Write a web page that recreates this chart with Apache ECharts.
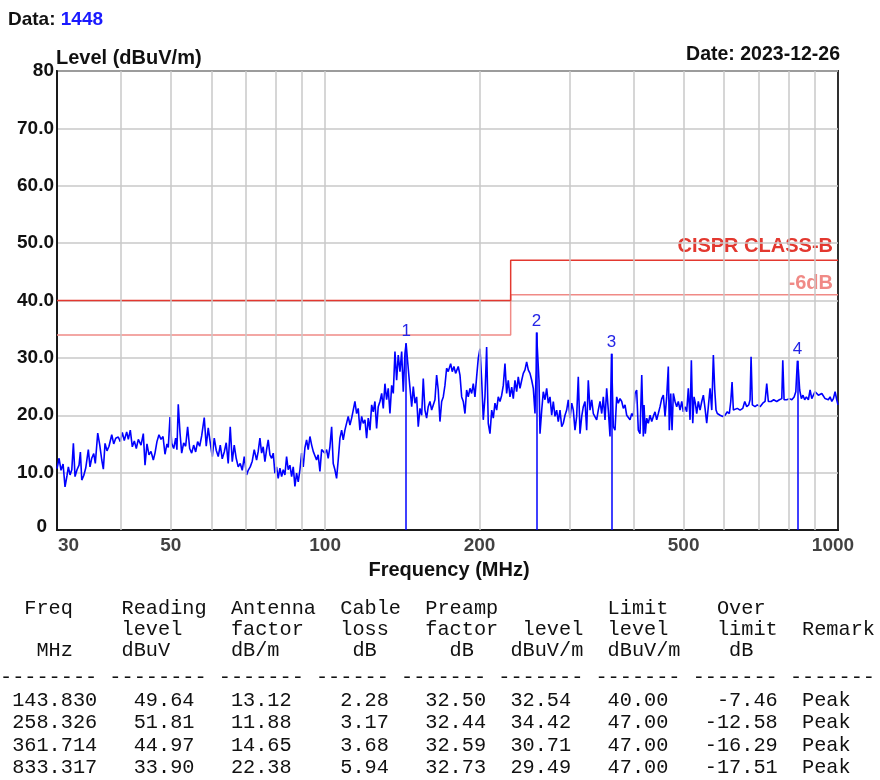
<!DOCTYPE html>
<html><head><meta charset="utf-8">
<script src="https://cdn.jsdelivr.net/npm/echarts@6/dist/echarts.min.js"></script>
<style>html,body{margin:0;padding:0;background:#fff}#c{width:880px;height:780px}</style>
</head><body><div id="c"></div>
<script>
// ---------------- data ----------------
const dataId = '1448';
const testDate = '2023-12-26';
// measured trace: [frequency MHz, level dBuV/m]
const tracePoints = [
[30.00,10.7],[30.28,12.5],[30.55,10.4],[30.83,11.5],[31.10,7.5],[31.38,9.5],[31.57,11.0],[31.81,9.6],[32.06,10.5],[32.29,15.1],
[32.53,9.3],[32.82,10.5],[33.12,11.3],[33.32,13.6],[33.53,8.7],[33.83,9.5],[34.13,10.8],[34.53,14.0],[34.79,11.0],[35.06,12.5],
[35.38,13.3],[35.63,11.6],[36.02,16.9],[36.35,14.8],[36.68,12.2],[36.94,10.6],[37.22,15.1],[37.55,13.8],[37.89,14.6],[38.36,16.6],
[38.70,15.0],[39.05,16.0],[39.50,16.2],[39.86,15.4],[40.22,17.0],[40.58,15.6],[41.02,17.1],[41.32,15.8],[41.69,17.4],[42.07,14.5],
[42.45,15.5],[42.83,14.2],[43.22,15.8],[43.75,14.8],[44.20,16.8],[44.54,11.3],[44.93,15.0],[45.34,13.1],[45.75,13.7],[46.23,12.2],
[46.58,13.4],[46.99,15.4],[47.42,16.6],[47.85,15.8],[48.29,16.3],[48.72,13.2],[49.15,15.0],[49.44,14.4],[49.83,19.7],[50.21,15.1],
[50.66,14.2],[51.11,16.0],[51.40,14.0],[51.71,21.9],[52.11,17.0],[52.51,13.4],[52.98,15.2],[53.45,14.6],[53.93,18.0],[54.43,14.2],
[54.92,13.4],[55.41,14.8],[55.91,13.6],[56.41,15.4],[56.93,14.6],[57.44,16.4],[58.11,19.6],[58.63,14.6],[59.16,17.8],[59.70,15.2],
[60.24,12.8],[60.78,16.0],[61.32,13.9],[61.88,12.8],[62.44,14.8],[63.00,12.4],[63.57,13.6],[64.13,15.2],[64.71,11.6],[65.30,18.0],
[65.89,11.9],[66.48,14.8],[67.07,12.5],[67.68,11.0],[68.30,11.6],[68.92,10.4],[69.54,12.8],[70.28,9.6],[70.79,10.4],[71.43,11.0],
[72.08,12.0],[72.73,14.0],[73.50,12.2],[74.04,13.7],[74.61,16.0],[75.18,13.4],[75.72,14.5],[76.30,11.9],[76.88,14.0],[77.44,15.7],
[78.04,13.1],[78.64,12.5],[79.21,13.4],[79.80,9.9],[80.40,11.0],[80.99,9.0],[81.62,10.8],[82.25,9.3],[82.84,10.5],[83.47,9.6],
[84.10,12.8],[84.71,10.5],[85.37,11.3],[86.02,9.3],[86.65,11.0],[87.31,7.6],[87.96,9.9],[88.61,8.4],[89.29,10.5],[89.98,13.4],
[90.63,11.0],[91.31,14.3],[92.00,15.7],[92.67,14.0],[93.39,16.3],[94.12,14.8],[94.79,13.7],[95.50,14.0],[96.22,12.2],[96.92,13.1],
[97.68,10.2],[98.43,14.0],[99.14,14.3],[99.89,13.4],[100.64,14.0],[101.37,12.5],[102.16,14.5],[102.95,18.0],[103.69,11.6],[104.48,10.5],
[105.27,9.0],[106.04,12.2],[106.86,16.0],[107.68,17.4],[108.46,15.7],[109.28,17.4],[110.10,17.1],[110.91,19.8],[111.77,18.3],[112.63,19.5],
[113.44,20.9],[114.30,22.4],[115.16,20.3],[116.00,21.2],[116.90,17.4],[117.80,19.8],[118.65,18.6],[119.56,19.2],[120.46,16.0],[121.34,19.5],
[122.28,17.4],[123.22,21.8],[124.11,20.6],[125.05,22.4],[125.99,17.7],[126.91,21.5],[127.90,22.4],[128.88,23.8],[129.81,21.2],[130.79,25.5],
[131.78,22.7],[132.74,24.7],[133.77,20.3],[134.80,25.2],[135.78,23.8],[136.81,31.1],[137.84,26.1],[138.84,30.5],[139.92,27.6],[140.99,31.1],
[142.01,24.1],[143.09,30.8],[143.83,32.54],[144.56,30.2],[145.89,26.1],[147.48,21.5],[148.54,25.0],[149.66,22.1],[150.79,23.2],[151.89,18.0],
[153.07,21.2],[154.25,20.0],[155.35,26.4],[156.53,20.9],[157.70,19.5],[158.85,21.5],[160.09,22.4],[161.32,20.9],[162.48,21.2],[163.72,22.7],
[164.95,27.0],[166.16,24.4],[167.44,18.9],[168.73,22.4],[169.94,23.2],[171.23,25.2],[172.52,28.2],[173.78,27.6],[174.34,27.3],[175.67,29.0],
[176.94,27.6],[178.28,28.5],[179.63,27.3],[181.77,28.5],[183.18,27.0],[184.59,23.2],[185.92,22.4],[187.33,20.3],[188.74,24.4],[190.12,23.2],
[191.59,24.7],[193.07,23.8],[194.46,25.5],[195.93,23.2],[197.41,26.7],[198.85,29.9],[200.39,31.6],[201.94,26.1],[203.39,19.2],[204.93,23.2],
[206.48,31.9],[207.99,18.6],[209.60,16.8],[211.22,20.9],[212.74,19.5],[214.35,22.1],[215.97,20.9],[217.54,23.2],[219.23,22.4],[220.92,23.5],
[222.51,25.2],[224.20,29.0],[225.88,23.8],[227.53,26.1],[229.30,23.2],[231.07,24.9],[232.73,22.9],[234.49,26.1],[236.26,24.1],[237.98,26.7],
[239.83,24.7],[241.68,26.1],[243.41,27.3],[245.27,27.9],[247.11,29.3],[248.92,27.9],[250.85,27.3],[252.79,26.1],[254.60,24.7],[256.54,20.3],
[257.90,27.9],[258.33,34.42],[261.19,26.1],[262.38,16.8],[264.40,20.9],[266.30,24.1],[268.32,22.7],[270.34,24.7],[272.32,22.1],[274.43,23.2],
[276.54,20.0],[278.53,22.4],[280.64,19.8],[282.76,20.9],[284.82,18.9],[287.03,20.9],[289.24,18.0],[291.32,18.6],[293.54,20.0],[295.75,20.9],
[297.91,22.7],[300.22,19.5],[302.54,22.1],[304.71,20.9],[307.02,17.4],[309.33,19.8],[311.59,26.7],[314.01,16.8],[316.43,19.8],[318.71,21.5],
[321.12,22.4],[323.54,17.4],[325.90,26.1],[328.43,20.9],[330.96,22.7],[333.34,20.3],[335.87,20.0],[338.40,19.2],[340.87,20.9],[343.52,22.4],
[346.17,20.3],[348.66,23.2],[351.31,19.2],[353.95,24.7],[356.54,20.9],[359.30,16.3],[361.71,30.71],[364.67,18.0],[367.44,17.4],[370.21,23.2],
[372.91,22.1],[375.81,22.9],[378.70,22.4],[381.43,21.2],[384.32,21.8],[387.22,20.0],[390.05,20.3],[393.07,19.2],[396.11,20.3],[398.97,19.8],
[402.00,23.8],[405.01,24.4],[407.96,17.4],[411.13,16.8],[414.30,27.0],[417.28,16.3],[418.58,21.8],[421.00,16.8],[423.61,19.5],[426.70,18.6],
[430.02,20.0],[433.33,18.9],[436.45,19.8],[439.76,20.6],[443.08,19.2],[446.31,20.3],[449.77,21.5],[453.24,22.9],[456.50,23.5],[459.96,19.8],
[463.42,23.2],[466.80,28.5],[468.93,17.4],[471.91,23.8],[474.68,17.4],[477.45,23.8],[481.08,22.4],[484.71,21.5],[488.25,22.4],[492.04,20.9],
[495.83,22.4],[499.40,20.6],[503.19,21.5],[506.98,20.6],[510.68,24.7],[514.64,19.2],[517.67,29.6],[520.94,18.6],[523.97,23.2],[527.00,22.1],
[530.26,20.3],[534.13,22.4],[538.28,20.9],[542.43,22.4],[546.33,23.5],[550.48,21.2],[554.62,18.6],[558.67,21.5],[563.01,24.7],[567.35,20.9],
[571.43,30.5],[575.00,24.4],[578.32,20.9],[581.67,20.3],[588.87,20.0],[596.08,19.8],[602.21,20.0],[608.39,20.6],[613.97,20.3],[617.88,22.4],
[621.50,25.8],[625.13,20.9],[630.71,20.6],[636.34,21.2],[644.22,20.9],[652.10,21.2],[657.94,22.4],[663.77,21.5],[669.84,21.8],[673.81,22.7],
[676.86,30.2],[680.83,21.8],[689.08,21.5],[696.14,21.8],[704.76,21.5],[713.39,22.1],[720.73,22.4],[726.16,25.5],[731.46,22.4],[740.48,22.4],
[749.16,22.7],[759.52,22.4],[768.55,22.7],[776.95,22.9],[780.44,29.6],[784.98,22.7],[794.40,22.7],[804.04,22.9],[812.81,22.7],[821.21,23.2],
[827.42,24.1],[833.32,29.49],[836.96,27.9],[841.93,24.4],[848.43,22.9],[854.55,23.5],[861.05,22.7],[867.55,23.2],[875.41,22.7],[882.20,24.4],
[888.99,22.9],[895.39,23.5],[902.19,24.1],[908.99,23.8],[915.63,23.5],[922.73,23.2],[929.84,23.8],[936.53,23.5],[943.64,22.9],[950.75,23.2],
[957.68,22.7],[965.12,23.2],[972.55,22.4],[979.55,22.9],[986.98,24.1],[994.42,22.7],[1000.00,21.8]
];
// limit lines
const limitFreq   = [30, 230, 230, 1000];
const limitClassB = [40, 40, 47, 47];
const limitMinus6 = [34, 34, 41, 41];
const limitNames  = ['CISPR CLASS-B', '-6dB'];
// axes
const xTickValues = [30, 50, 100, 200, 500, 1000];
const xGridValues = [40, 50, 60, 70, 80, 90, 100, 200, 300, 400, 500, 600, 700, 800, 900];
const yMin = 0, yMax = 80, yStep = 10;
// peak table
const peakFreq     = [143.830, 258.326, 361.714, 833.317];
const readingLevel = [49.64, 51.81, 44.97, 33.90];
const antennaFactor= [13.12, 11.88, 14.65, 22.38];
const cableLoss    = [2.28, 3.17, 3.68, 5.94];
const preampFactor = [32.50, 32.44, 32.59, 32.73];
const peakLevel    = [32.54, 34.42, 30.71, 29.49];
const limitLevel   = [40.00, 47.00, 47.00, 47.00];
const overLimit    = [-7.46, -12.58, -16.29, -17.51];
const remark       = ['Peak', 'Peak', 'Peak', 'Peak'];
const tableHeader = [
  '  Freq    Reading  Antenna  Cable  Preamp         Limit    Over',
  '          level    factor   loss   factor  level  level    limit  Remark',
  '   MHz    dBuV     dB/m      dB      dB   dBuV/m  dBuV/m    dB',
  '-------- -------- ------- ------ ------- ------- ------- ------- -------'
];

// ---------------- styles / layout ----------------
const SANS = '"Liberation Sans", Arial, sans-serif';
const MONO = '"Liberation Mono", "DejaVu Sans Mono", monospace';
const gridColor = '#c8c8c8';
const frameColor = '#1a1a1a';
const traceColor = '#0000ff';
const limitColor = '#e3382f';
const limit6Color = '#f08a86';

const colEnds = [8, 16, 24, 32, 40, 47, 55, 64];
const remarkCol = 66;
function placeRight(line, str, end) {
  while (line.length < end - str.length) line += ' ';
  return line + str;
}
const tableRows = peakFreq.map((f, i) => {
  const cells = [f.toFixed(3), readingLevel[i].toFixed(2), antennaFactor[i].toFixed(2),
    cableLoss[i].toFixed(2), preampFactor[i].toFixed(2), peakLevel[i].toFixed(2),
    limitLevel[i].toFixed(2), overLimit[i].toFixed(2)];
  let line = '';
  cells.forEach((c, j) => { line = placeRight(line, c, colEnds[j]); });
  while (line.length < remarkCol) line += ' ';
  return line + remark[i];
});
const tableLines = tableHeader.concat(tableRows);
const tableY = [609, 630, 651, 678, 701, 723, 746, 768];
const monoFont = '20.25px ' + MONO;

const chart = echarts.init(document.getElementById('c'), null, {renderer: 'canvas'});

const graphics = [
  { type: 'text', left: 8, top: 10, style: {
      text: '{a|Data: }{b|' + dataId + '}',
      rich: { a: {fontFamily: SANS, fontWeight: 'bold', fontSize: 19, fill: '#111'},
              b: {fontFamily: SANS, fontWeight: 'bold', fontSize: 19, fill: '#1a1aff'} } } },
  { type: 'text', x: 56, y: 58, style: { text: 'Level (dBuV/m)', font: 'bold 20px ' + SANS, fill: '#111', verticalAlign: 'middle', align: 'left' } },
  { type: 'text', x: 840, y: 55, style: { text: 'Date: ' + testDate, font: 'bold 19.5px ' + SANS, fill: '#111', verticalAlign: 'middle', align: 'right' } },
  { type: 'text', x: 449, y: 570, style: { text: 'Frequency (MHz)', font: 'bold 20px ' + SANS, fill: '#111', verticalAlign: 'middle', align: 'center' } },
  { type: 'text', x: 833, y: 246, style: { text: limitNames[0], font: 'bold 20px ' + SANS, fill: limitColor, verticalAlign: 'middle', align: 'right' } },
  { type: 'text', x: 833, y: 283, style: { text: limitNames[1], font: 'bold 20px ' + SANS, fill: limit6Color, verticalAlign: 'middle', align: 'right' } }
];
tableLines.forEach((t, i) => {
  graphics.push({ type: 'text', x: 0, y: tableY[i], style: { text: t, font: monoFont, fill: '#111', verticalAlign: 'middle', align: 'left' } });
});

const option = {
  animation: false,
  backgroundColor: '#fff',
  grid: { left: 57, right: 42, top: 71, bottom: 250, show: true, borderColor: frameColor, borderWidth: 1.8, backgroundColor: 'transparent' },
  xAxis: {
    type: 'log', logBase: 10, min: 30, max: 1000,
    axisLine: { show: true, onZero: false, lineStyle: { color: frameColor, width: 2 } },
    axisTick: { show: false }, axisLabel: { show: false }, splitLine: { show: false }, minorSplitLine: {show: false}
  },
  yAxis: {
    type: 'value', min: yMin, max: yMax, interval: yStep,
    axisLine: { show: true, lineStyle: { color: frameColor, width: 2 } },
    axisTick: { show: false },
    splitLine: { show: true, lineStyle: { color: gridColor, width: 1.5 } },
    axisLabel: {
      margin: 3, fontFamily: SANS, fontWeight: 'bold', fontSize: 19, color: '#111',
      formatter: v => v === yMin ? '{z|0}' : (v === yMax ? String(v) : v.toFixed(1)),
      rich: { z: { fontFamily: SANS, fontWeight: 'bold', fontSize: 19, color: '#111', padding: [0, 7, 6, 0] } }
    }
  },
  graphic: graphics,
  series: [
    { // vertical grid lines
      type: 'line', z: 1, silent: true, data: [[30, 0]], showSymbol: false, lineStyle: {opacity: 0},
      markLine: { silent: true, symbol: ['none', 'none'], animation: false,
        label: { show: false }, lineStyle: { color: gridColor, width: 1.5, type: 'solid' },
        data: xGridValues.map(v => ({ xAxis: v })) }
    },
    { // x tick labels
      type: 'scatter', z: 5, silent: true, clip: false, symbolSize: 0.1, itemStyle: {color: 'rgba(0,0,0,0)'},
      data: xTickValues.map((v, i) => {
        const d = { value: [v, 0] };
        if (i === 0) d.label = { align: 'left', offset: [1, 0] };
        if (i === xTickValues.length - 1) d.label = { offset: [-5, 0] };
        return d;
      }),
      label: { show: true, position: 'bottom', distance: 6, formatter: p => String(p.value[0]),
        fontFamily: SANS, fontWeight: 'bold', fontSize: 19, color: '#111' }
    },
    { type: 'line', z: 2, silent: true, showSymbol: false, data: limitFreq.map((f, i) => [f, limitMinus6[i]]),
      lineStyle: { color: limit6Color, width: 1.5 } },
    { type: 'line', z: 2, silent: true, showSymbol: false, data: limitFreq.map((f, i) => [f, limitClassB[i]]),
      lineStyle: { color: limitColor, width: 1.5 } },
    { type: 'line', z: 3, silent: true, showSymbol: false, data: tracePoints,
      lineStyle: { color: traceColor, width: 1.6 },
      markLine: { silent: true, symbol: ['none', 'none'], animation: false,
        lineStyle: { color: traceColor, width: 1.5, type: 'solid' },
        label: { show: true, position: 'end', distance: 3, formatter: '{b}', color: '#2424e6',
          fontFamily: SANS, fontSize: 17 },
        data: peakFreq.map((f, i) => [ { coord: [f, 0], name: String(i + 1) }, { coord: [f, peakLevel[i]] } ]) }
    }
  ]
};
chart.setOption(option);
</script></body></html>
